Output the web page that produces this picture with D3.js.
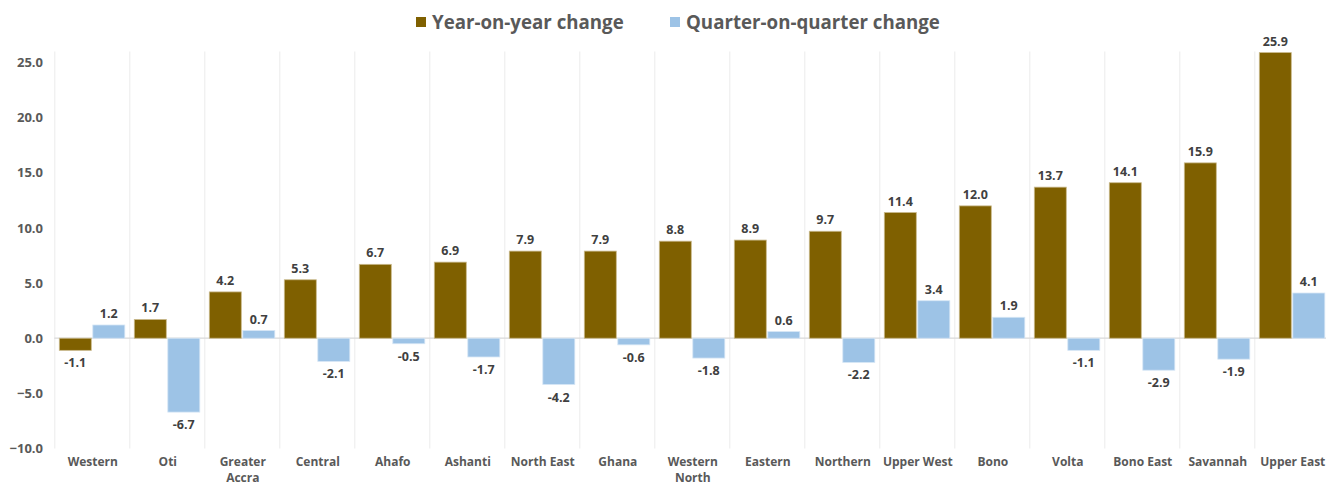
<!DOCTYPE html>
<html>
<head>
<meta charset="utf-8">
<script src="https://cdn.jsdelivr.net/npm/d3@7"></script>
<style>
  html, body { margin: 0; padding: 0; background: #ffffff; }
  svg { display: block; font-family: "Open Sans", "DejaVu Sans", sans-serif; font-weight: 700; }
</style>
</head>
<body>
<svg id="chart" width="1326" height="486"></svg>
<script>
// Regions, ordered by year-on-year change
const regions = ["Western", "Oti", "Greater Accra", "Central", "Ahafo", "Ashanti",
  "North East", "Ghana", "Western North", "Eastern", "Northern", "Upper West",
  "Bono", "Volta", "Bono East", "Savannah", "Upper East"];
const yearOnYear = [-1.1, 1.7, 4.2, 5.3, 6.7, 6.9, 7.9, 7.9, 8.8, 8.9, 9.7, 11.4,
  12.0, 13.7, 14.1, 15.9, 25.9];
const quarterOnQuarter = [1.2, -6.7, 0.7, -2.1, -0.5, -1.7, -4.2, -0.6, -1.8, 0.6,
  -2.2, 3.4, 1.9, -1.1, -2.9, -1.9, 4.1];
const seriesNames = ["Year-on-year change", "Quarter-on-quarter change"];
const yTicks = [-10, -5, 0, 5, 10, 15, 20, 25];

const colors = ["#7F6000", "#9DC3E6"];
const textColor = "#595959";

const svg = d3.select("#chart");
const margin = { left: 54.3, top: 51.5, bottom: 448.5 };
const bandW = 75;

const x0 = d3.scaleBand()
  .domain(regions)
  .range([margin.left, margin.left + bandW * regions.length])
  .padding(0);

const x1 = d3.scaleBand()
  .domain([0, 1])
  .range([5, 70.5])
  .paddingInner(0.045);

const y = d3.scaleLinear().domain([-10, 26]).range([margin.bottom, margin.top]);

const rows = regions.map((r, i) => ({ region: r, values: [yearOnYear[i], quarterOnQuarter[i]] }));

// vertical separators between categories
svg.append("g")
  .selectAll("line")
  .data(regions)
  .join("line")
  .attr("x1", d => x0(d) + 0.5)
  .attr("x2", d => x0(d) + 0.5)
  .attr("y1", y(26))
  .attr("y2", y(-10))
  .attr("stroke", "#ebebeb")
  .attr("stroke-width", 1);

// y axis labels
const yAxis = d3.axisLeft(y).tickValues(yTicks).tickFormat(d3.format(".1f")).tickSize(0).tickPadding(0);
svg.append("g")
  .attr("transform", "translate(43,0)")
  .call(yAxis)
  .call(g => g.select(".domain").remove())
  .call(g => g.selectAll("text")
    .attr("fill", textColor)
    .style("font-family", "'Open Sans', sans-serif")
    .style("font-weight", 700)
    .style("font-size", "13px"));

// zero line
svg.append("line")
  .attr("x1", margin.left)
  .attr("x2", margin.left + bandW * regions.length)
  .attr("y1", y(0))
  .attr("y2", y(0))
  .attr("stroke", "#d9d9d9")
  .attr("stroke-width", 1.2);

// bars
const groups = svg.append("g")
  .selectAll("g")
  .data(rows)
  .join("g")
  .attr("transform", d => `translate(${x0(d.region)},0)`);

groups.selectAll("rect")
  .data(d => d.values.map((v, k) => ({ v, k })))
  .join("rect")
  .attr("x", d => x1(d.k))
  .attr("width", x1.bandwidth())
  .attr("y", d => y(Math.max(0, d.v)))
  .attr("height", d => Math.abs(y(d.v) - y(0)))
  .attr("fill", d => colors[d.k])
  .attr("stroke", d => d.k === 0 ? "#c9b98c" : "#d6e6f5")
  .attr("stroke-width", 0.8);

// value labels
groups.selectAll("text")
  .data(d => d.values.map((v, k) => ({ v, k })))
  .join("text")
  .attr("x", d => x1(d.k) + x1.bandwidth() / 2)
  .attr("y", d => d.v >= 0 ? y(d.v) - 7 : y(d.v) + 17)
  .attr("text-anchor", "middle")
  .attr("fill", "#404040")
  .style("font-size", "12.5px")
  .text(d => d.v.toFixed(1));

// category labels (two-word names wrap onto a second line)
const wrapped = { "Greater Accra": ["Greater", "Accra"], "Western North": ["Western", "North"] };
const cat = svg.append("g")
  .selectAll("text")
  .data(regions)
  .join("text")
  .attr("x", d => x0(d) + bandW / 2 + 1)
  .attr("y", 466)
  .attr("text-anchor", "middle")
  .attr("fill", textColor)
  .style("font-size", "12px");
cat.each(function (d) {
  const lines = wrapped[d] || [d];
  d3.select(this).selectAll("tspan")
    .data(lines)
    .join("tspan")
    .attr("x", x0(d) + bandW / 2 + 1)
    .attr("dy", (l, i) => i === 0 ? 0 : 16.4)
    .text(l => l);
});

// legend
const legendX = [416, 670];
const legend = svg.append("g")
  .selectAll("g")
  .data(seriesNames)
  .join("g")
  .attr("transform", (d, i) => `translate(${legendX[i]},0)`);
legend.append("rect")
  .attr("x", 0).attr("y", 17).attr("width", 10).attr("height", 10)
  .attr("fill", (d, i) => colors[i]);
legend.append("text")
  .attr("x", 16).attr("y", 29)
  .attr("fill", textColor)
  .style("font-size", "18.7px")
  .text(d => d);
</script>
</body>
</html>
